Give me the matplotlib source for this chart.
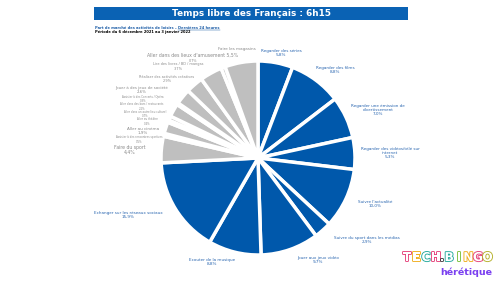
import matplotlib
matplotlib.use("Agg")
import matplotlib.pyplot as plt
import matplotlib.patheffects as pe

# ---- data ----
blue_labels = ["Regarder des séries", "Regarder des films",
               "Regarder une émission de\ndivertissement",
               "Regarder des vidéos/télé sur\ninternet",
               "Suivre l'actualité", "Suivre du sport dans les médias",
               "Jouer aux jeux vidéo", "Ecouter de la musique",
               "Echanger sur les réseaux sociaux"]
blue_values = [5.8, 8.8, 7.0, 5.3, 10.0, 2.9, 9.7, 8.8, 15.9]

gray_labels = ["Faire du sport", "Assister à des rencontres sportives",
               "Aller au cinéma", "Aller au théâtre",
               "Aller dans un autre lieu culturel",
               "Aller dans des bars / restaurants",
               "Assister à des Concerts / Opéra",
               "Jouer à des jeux de société",
               "Réaliser des activités créatives",
               "Lire des livres / BD / mangas",
               "Aller dans des lieux d'amusement", "Faire les magasins"]
gray_values = [4.4, 0.5, 1.9, 0.4, 0.7, 2.2, 0.3, 2.6, 2.9, 3.7, 0.7, 5.5]

title = "Temps libre des Français : 6h15"
sub1a = "Part de marché des activités de loisirs – "
sub1b = "Dernières 24 heures"
sub2 = "Période du 6 décembre 2021 au 3 janvier 2022"

# ---- style ----
BLUE = "#0058AB"
GRAY = "#BFBFBF"
BLUE_TXT = "#2A66B0"
GRAY_TXT = "#8A8A8A"
W, H = 500, 281

def fmt(v):
    return f"{v:.1f}%".replace(".", ",")

fig = plt.figure(figsize=(W / 100, H / 100), dpi=100)
ax = fig.add_axes([0, 0, 1, 1])

def Y(y):
    return H - y

values = blue_values + gray_values
colors = [BLUE] * len(blue_values) + [GRAY] * len(gray_values)
ax.pie(values, colors=colors, startangle=90, counterclock=False,
       center=(258, Y(158)), radius=97,
       wedgeprops=dict(edgecolor="white", linewidth=2.5))
ax.set_xlim(0, W)
ax.set_ylim(0, H)
ax.set_aspect("equal")
ax.axis("off")

# banner
ax.add_patch(plt.Rectangle((94, Y(19.5)), 314, 12.5, color="#0A62B4", lw=0))
ax.text(251, Y(13.3), title, color="white", fontsize=6.4, fontweight="bold",
        ha="center", va="center")

t1 = ax.text(95, Y(28), sub1a, color="#1F5FA8", fontsize=2.6,
             fontweight="bold", ha="left", va="center")
fig.canvas.draw()
bb = t1.get_window_extent()
x2 = bb.x1
t2 = ax.text(x2, Y(28), sub1b, color="#1F5FA8", fontsize=2.6,
             fontweight="bold", ha="left", va="center")
fig.canvas.draw()
bb2 = t2.get_window_extent()
ax.plot([bb2.x0, bb2.x1], [Y(29.8), Y(29.8)], color="#1F5FA8", lw=0.35)
ax.text(95, Y(32.5), sub2, color="black", fontsize=2.6, fontweight="bold",
        ha="left", va="center")

# blue labels (top-down pixel layout)
blue_pos = [(281, 53), (335, 70), (378, 110), (390, 153), (375, 204),
            (367, 240), (318, 260), (212, 262), (128, 215)]
for lab, v, (x, y) in zip(blue_labels, blue_values, blue_pos):
    ax.text(x, Y(y), f"{lab}\n{fmt(v)}", color=BLUE_TXT, fontsize=3.0,
            ha="center", va="center", linespacing=1.1)

# gray labels
gray_pos = [(130, 150), (139, 139.5), (143, 131), (147, 121.5), (145, 114),
            (142, 106.5), (143, 98.8), (142, 90), (167, 79), (178, 66.5),
            (193, 57), (237, 49)]
gray_size = [3.3, 1.9, 3.0, 1.9, 1.9, 1.9, 1.9, 2.8, 2.5, 2.5, 3.3, 3.0]
for i, (lab, v, (x, y), s) in enumerate(zip(gray_labels, gray_values,
                                            gray_pos, gray_size)):
    if lab == "Faire les magasins":
        ax.text(x, Y(y), lab, color=GRAY_TXT, fontsize=s, ha="center",
                va="center")
    elif lab == "Aller dans des lieux d'amusement":
        ax.text(x, Y(y - 2), lab + " " + fmt(gray_values[-1]),
                color=GRAY_TXT, fontsize=s, ha="center", va="center")
        ax.text(x, Y(y + 3.5), fmt(v), color=GRAY_TXT, fontsize=2.4,
                ha="center", va="center")
    else:
        ax.text(x, Y(y), f"{lab}\n{fmt(v)}", color=GRAY_TXT, fontsize=s,
                ha="center", va="center", linespacing=1.05)

# logo
logo = "TECH.BINGO"
logo_cols = ["#E5407A", "#F0AE1E", "#24A99C", "#E5407A", "#444444",
             "#24A99C", "#7BBF3A", "#F0AE1E", "#E5407A", "#B5B02A"]
xs = 402
for ch, c in zip(logo, logo_cols):
    step = 4.0 if ch == "." else 9.6
    ax.text(xs + step / 2, Y(257.5), ch, color="white", fontsize=8.8,
            fontweight="bold", ha="center", va="center",
            path_effects=[pe.withStroke(linewidth=1.3, foreground=c)])
    xs += step
ax.text(466, Y(272.5), "hérétique", color="#7A3FF0", fontsize=6.8,
        fontweight="bold", ha="center", va="center")

fig.savefig("out.png", dpi=100)
